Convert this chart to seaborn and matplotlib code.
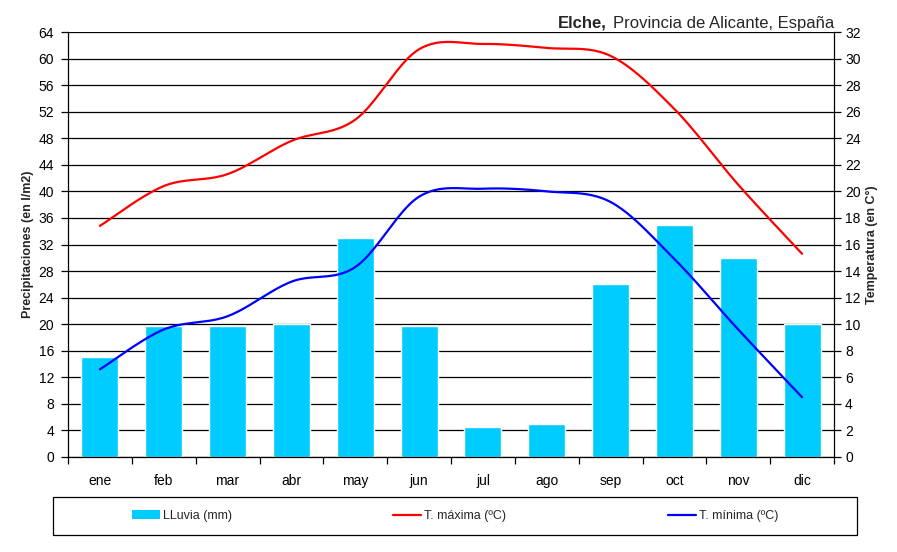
import matplotlib
matplotlib.use("Agg")
import matplotlib.pyplot as plt
import numpy as np
import pandas as pd
import seaborn as sns
from matplotlib.lines import Line2D
from matplotlib.patches import Patch, Rectangle

# Data
meses = ["ene", "feb", "mar", "abr", "may", "jun", "jul", "ago", "sep", "oct", "nov", "dic"]
lluvia = [15, 19.8, 19.8, 20, 33, 19.8, 4.5, 5, 26, 35, 30, 20]
t_max = [17.4, 20.4, 21.3, 23.8, 25.4, 30.7, 31.1, 30.8, 30.2, 26.2, 20.5, 15.3]
t_min = [6.6, 9.6, 10.6, 13.2, 14.3, 19.6, 20.2, 20.0, 19.2, 14.9, 9.6, 4.5]

sns.set_theme(style="white")
plt.rcParams["font.family"] = ["Liberation Sans", "DejaVu Sans"]

CYAN = "#00CCFF"


def smooth(y, n=24):
    # Excel-like smoothed line: cubic bezier with catmull-rom handles
    y = np.asarray(y, dtype=float)
    x = np.arange(len(y), dtype=float)
    pts = np.column_stack([x, y])
    ext = np.vstack([pts[0], pts, pts[-1]])
    out = []
    t = np.linspace(0, 1, n)[:, None]
    for i in range(len(pts) - 1):
        p0 = ext[i + 1]
        p3 = ext[i + 2]
        c1 = p0 + (ext[i + 2] - ext[i]) / 6
        c2 = p3 - (ext[i + 3] - ext[i + 1]) / 6
        seg = (1 - t) ** 3 * p0 + 3 * (1 - t) ** 2 * t * c1 + 3 * (1 - t) * t ** 2 * c2 + t ** 3 * p3
        out.append(seg if i == 0 else seg[1:])
    seg = np.vstack(out)
    return seg[:, 0], seg[:, 1]


df = pd.DataFrame({"mes": meses, "lluvia": lluvia})

fig = plt.figure(figsize=(8.97, 5.52), dpi=100)
ax = fig.add_axes([68 / 897, 1 - 457 / 552, 766 / 897, 425 / 552])

sns.barplot(data=df, x="mes", y="lluvia", color=CYAN, saturation=1, width=0.58, ax=ax, zorder=2)

ax.set_xlim(-0.5, 11.5)
ax.set_ylim(0, 64)
ax.set_yticks(range(0, 65, 4))
ax.set_xlabel("")
ax.set_ylabel("Precipitaciones (en l/m2)", fontsize=9, fontweight="bold", labelpad=3)
ax.yaxis.grid(True, color="black", linewidth=0.9)
ax.set_axisbelow(True)
ax.set_xticks(np.arange(-0.5, 12, 1), minor=True)
ax.tick_params(axis="x", which="major", length=0, pad=12, labelsize=10, colors="black")
ax.tick_params(axis="x", which="minor", length=5, width=0.9, direction="out", colors="black", bottom=True)
ax.tick_params(axis="y", length=5, width=0.9, direction="out", pad=5, labelsize=10, colors="black", left=True)
for s in ["top", "right"]:
    ax.spines[s].set_visible(False)
for s in ["left", "bottom"]:
    ax.spines[s].set_color("black")
    ax.spines[s].set_linewidth(0.9)

ax2 = ax.twinx()
xs, ys = smooth(t_max)
ax2.plot(xs, ys, color="#FF0000", linewidth=1.6, zorder=3)
xs, ys = smooth(t_min)
ax2.plot(xs, ys, color="#0000FF", linewidth=1.6, zorder=3)
ax2.set_ylim(0, 32)
ax2.set_yticks(range(0, 33, 2))
ax2.set_ylabel("Temperatura (en C°)", fontsize=9, fontweight="bold", labelpad=4)
ax2.tick_params(axis="y", length=5, width=0.9, direction="out", pad=3, labelsize=10, colors="black", right=True)
for s in ["top", "left", "bottom"]:
    ax2.spines[s].set_visible(False)
ax2.spines["right"].set_color("black")
ax2.spines["right"].set_linewidth(0.9)

# Title: bold city, regular rest, right aligned
t = ax.text(1.0, 1.0 + 4 / 425, "Provincia de Alicante, España", transform=ax.transAxes,
            ha="right", va="baseline", fontsize=12)
ax.annotate("Elche,", xy=(0, 0), xycoords=t, xytext=(-4, 0), textcoords="offset points",
            ha="right", va="bottom", fontsize=12, fontweight="bold")

# Legend
handles = [
    Patch(facecolor=CYAN, edgecolor="none"),
    Line2D([], [], color="#FF0000", linewidth=1.6),
    Line2D([], [], color="#0000FF", linewidth=1.6),
]
labels = ["LLuvia (mm)", "T. máxima (ºC)", "T. mínima (ºC)"]
fig.legend(handles, labels, loc="center", bbox_to_anchor=(455 / 897, 1 - 516 / 552), ncol=3,
           frameon=False, fontsize=9, handlelength=2.25, handletextpad=0.25, columnspacing=12.9)
fig.patches.append(Rectangle((53 / 897, 1 - 535 / 552), 804 / 897, 38 / 552, transform=fig.transFigure,
                             fill=False, edgecolor="black", linewidth=0.9))

fig.savefig("out.png", dpi=100)
